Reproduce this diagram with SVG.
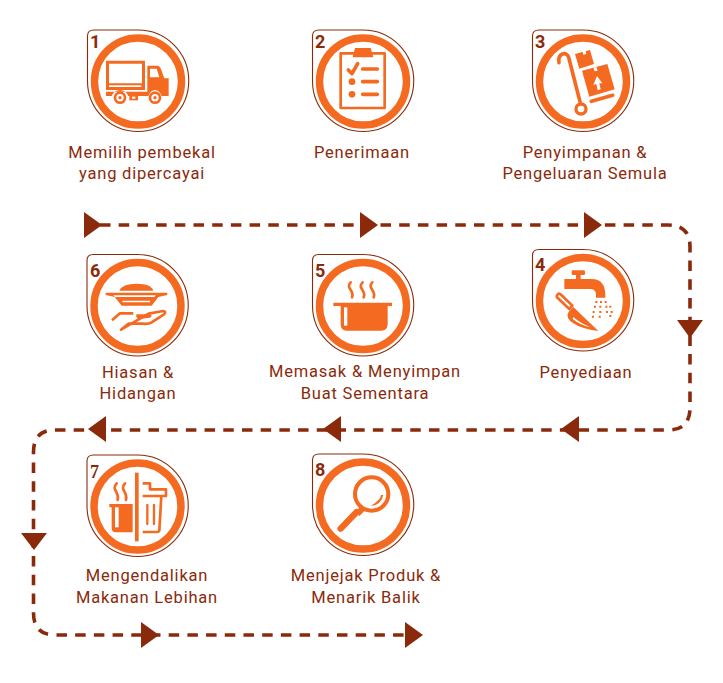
<svg xmlns="http://www.w3.org/2000/svg" width="723" height="683" viewBox="0 0 723 683">
<style>
.o{fill:none;stroke:#8a2a0b;stroke-width:1.1}
.r{fill:none;stroke:#f46a21;stroke-width:7.4}
.f{fill:#f46a21}
.s{fill:none;stroke:#f46a21;stroke-width:11;stroke-linecap:round;stroke-linejoin:round}
.t{fill:none;stroke:#f46a21;stroke-width:8;stroke-linejoin:round}
.w{fill:#fff}
.n{font:700 18px "Roboto",sans-serif;fill:#8a2a0b}
.l{font:400 16.5px "Roboto",sans-serif;fill:#8a2a0b;text-anchor:middle;letter-spacing:.8px}
.d{fill:none;stroke:#8a2a0b;stroke-width:3.6;stroke-dasharray:10.5 8.2}
.a{fill:#8a2a0b}
</style>
<defs>
<g id="badge">
<path class="o" d="M-44-51.500H0A50.500 50.500 0 0 1 0 50A50.500 50.500 0 0 1-50.500-.75V-45.500Q-50.500-51.500-44-51.500Z"/>
<circle class="r" cx="0" cy="0" r="43.500"/>
</g>
</defs>
<g id="connectors">
<path class="d" d="M100 225H668Q690 225 690 247V408Q690 430 668 430H55Q33.500 430 33.500 452V613Q33.500 635 55 635H410"/>
<path class="a" d="M84 212V238L102 225ZM360 212V238L378 225ZM584 212V238L602 225ZM677 320H703L690 338ZM579 416V442L561 429ZM341 416V442L323 429ZM106 416V442L88 429ZM21 533H47L34 550ZM141 622V648L159 635ZM405 622V648L423 635Z"/>
</g>
<g id="node1">
<use href="#badge" x="138" y="81.500"/>
<text class="n" x="90" y="48">1</text>
<g transform="translate(70 20) scale(.3333)">
<path class="f" d="M108 122H225V210H108ZM232 137H262Q270 137 274 150L283 175H296V228H275Q268 210 255 210T235 228H175Q168 210 150 210T125 228H108V215H232Z"/>
<path class="w" d="M117 131H216V190H117ZM117 196H214V201H117ZM240 146H260L268 172H240Z"/>
<circle class="f" cx="150" cy="233" r="19"/><circle class="f" cx="255" cy="233" r="19"/>
<circle class="w" cx="150" cy="233" r="11"/><circle class="w" cx="255" cy="233" r="11"/>
<circle class="f" cx="150" cy="233" r="5"/><circle class="f" cx="255" cy="233" r="5"/>
<rect class="f" x="178" y="225" width="26" height="16"/>
<rect class="w" x="186" y="230" width="10" height="6"/>
</g>
</g>
<g id="node2">
<use href="#badge" x="363" y="81.500"/>
<text class="n" x="315" y="48">2</text>
<g transform="translate(300 20) scale(.3333)">
<path class="t" d="M122 100H254V264H122Z"/>
<path class="f" d="M165 84H212L220 112H158Z"/>
<path class="s" d="M145 150L156 161L173 131M188 147H232M188 185H232M188 223H232"/>
<circle class="f" cx="156" cy="185" r="10"/><circle class="f" cx="156" cy="223" r="10"/>
</g>
</g>
<g id="node3">
<use href="#badge" x="583" y="81.500"/>
<text class="n" x="535" y="48">3</text>
<g transform="translate(520 20) scale(.3333)">
<path class="s" d="M117 128C112 100 140 92 146 112L180 245"/>
<path class="s" d="M214 244L278 226"/>
<circle class="t" cx="183" cy="267" r="15" style="stroke-width:10"/>
<path class="f" d="M165 102L210 90L222 132L178 146ZM186 152L262 132L284 208L208 230Z"/>
<path class="w" d="M186 88L195 86L199 102L190 104ZM220 143L229 141L233 152L224 154ZM231 168L247 190L238 190L242 208L233 211L229 192L220 195Z"/>
</g>
</g>
<g id="node4">
<use href="#badge" x="583" y="301"/>
<text class="n" x="535" y="271">4</text>
<g transform="translate(520 245) scale(.3333)">
<rect class="f" x="155" y="76" width="40" height="14" rx="4"/>
<path class="f" d="M168 88H182V102H215Q256 102 256 152V158H228V150Q228 132 212 132H133V102H168Z"/>
<path class="t" style="stroke-linecap:round" d="M112 150Q116 142 124 150L157 182L148 192L114 160Q108 155 112 150Z"/>
<path class="f" d="M146 200L160 186L235 258Q185 252 160 235T146 200Z"/>
<path class="w" d="M158 222Q180 240 212 247Q180 234 160 216Z"/>
<path class="f" d="M226 168h6v6h-6zM240 168h6v6h-6zM254 168h6v6h-6zM222 182h6v6h-6zM238 182h6v6h-6zM256 182h6v6h-6zM268 182h6v6h-6zM218 198h6v6h-6zM238 198h6v6h-6zM258 198h6v6h-6zM272 198h6v6h-6zM216 212h6v6h-6zM236 212h6v6h-6zM268 210h6v6h-6z"/>
</g>
</g>
<g id="node5">
<use href="#badge" x="363" y="306"/>
<text class="n" x="315" y="277">5</text>
<g transform="translate(300 245) scale(.3333)">
<path class="f" d="M100 173H276V183H263V238Q263 257 244 257H140Q122 257 122 238V183H100Z"/>
<path class="w" d="M132 187H142V242H132Z"/>
<path class="s" style="stroke-width:8" d="M152 112C135 130 165 135 156 157M188 112C170 130 200 135 191 157M217 112C200 130 230 135 221 157"/>
</g>
</g>
<g id="node6">
<use href="#badge" x="137.500" y="306"/>
<text class="n" x="90" y="277">6</text>
<g transform="translate(70 245) scale(.3333)">
<path class="f" d="M148 137Q156 116 200 116T250 137ZM107 143H292V150L265 156L245 182H155L134 156L107 150Z"/>
<path class="w" d="M130 151H258L253 156H135ZM157 167H240V172H157Z"/>
<path class="f" d="M200 208H240Q250 212 240 218L205 222Q195 215 200 208Z"/>
<path class="t" d="M126 226L150 205H190M236 206L280 198Q290 200 282 208L245 232Q235 238 220 236H175L153 254Z"/>
</g>
</g>
<g id="node7">
<use href="#badge" x="137.500" y="506.500"/>
<text class="n" x="90" y="478" style="font-family:'Liberation Serif',serif">7</text>
<g transform="translate(70 450) scale(.3333)">
<rect class="f" x="195" y="68" width="11" height="206"/>
<path class="f" d="M118 162H188V247H138Q125 247 125 235V172H118Z"/>
<path class="w" d="M135 172H146V232H135Z"/>
<path class="s" style="stroke-width:8" d="M140 100C122 120 150 125 143 150M165 100C147 120 175 125 168 150"/>
<path class="t" d="M218 100H240V118H288V138H274L268 242Q266 246 262 246H218M218 138H274"/>
<path class="s" style="stroke-width:7" d="M232 165V222M252 165V222"/>
</g>
</g>
<g id="node8">
<use href="#badge" x="363" y="505.500"/>
<text class="n" x="315" y="476">8</text>
<g transform="translate(300 450) scale(.3333)">
<circle class="t" cx="215" cy="132" r="50" style="stroke-width:12"/>
<path class="s" style="stroke-width:19" d="M122 236L170 186"/>
<path class="f" d="M180 170L166 188L178 198L194 182Z"/>
<path class="f" d="M243 135Q242 150 212 168Q242 167 250 135Z"/>
</g>
</g>
<g id="labels">
<text class="l" x="142" y="158">Memilih pembekal</text>
<text class="l" x="142" y="179">yang dipercayai</text>
<text class="l" x="362" y="158">Penerimaan</text>
<text class="l" x="585" y="158">Penyimpanan &amp;</text>
<text class="l" x="585" y="179">Pengeluaran Semula</text>
<text class="l" x="138" y="378">Hiasan &amp;</text>
<text class="l" x="138" y="399">Hidangan</text>
<text class="l" x="365" y="377">Memasak &amp; Menyimpan</text>
<text class="l" x="365" y="399">Buat Sementara</text>
<text class="l" x="586" y="378">Penyediaan</text>
<text class="l" x="147" y="581">Mengendalikan</text>
<text class="l" x="147" y="603">Makanan Lebihan</text>
<text class="l" x="366" y="581">Menjejak Produk &amp;</text>
<text class="l" x="366" y="603">Menarik Balik</text>
</g>
</svg>
